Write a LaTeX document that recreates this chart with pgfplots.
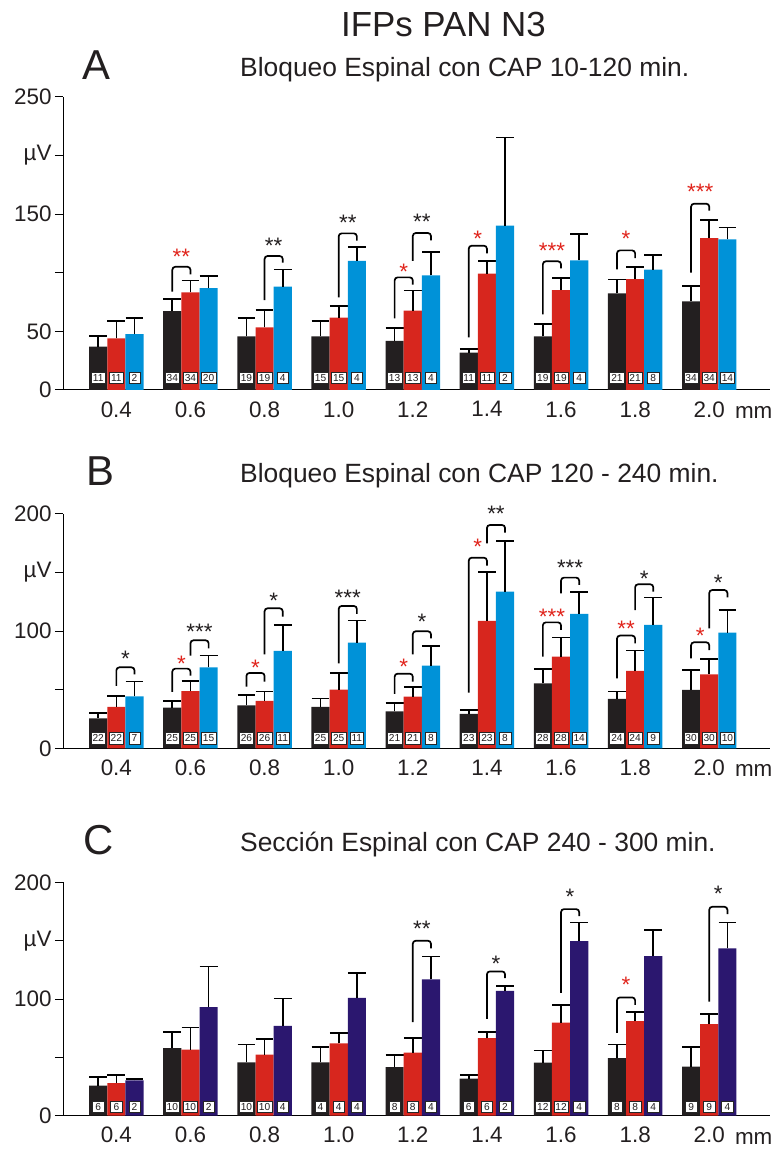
\documentclass[border=0pt]{standalone}
\usepackage{fontspec}
\setmainfont{Liberation Sans}
\usepackage{pgfplots}
\pgfplotsset{compat=1.18}
\usepackage{pgfplotstable}

\definecolor{cblk}{HTML}{231F20}
\definecolor{cred}{HTML}{D7261E}
\definecolor{cblu}{HTML}{0092D8}
\definecolor{cnav}{HTML}{2B176F}
\definecolor{cstar}{HTML}{E0241C}

% x b be r re u ue nb nr nu
\pgfplotstableread{
x b be r re u ue nb nr nu
0 36.9 9.4 44.0 14.8 47.7 13.4 11 11 2
1 67.3 10.0 83.2 10.0 86.9 10.0 34 34 20
2 45.7 15.4 53.4 14.8 88.0 14.8 19 19 4
3 45.7 13.1 61.6 9.7 110.0 11.9 15 15 4
4 41.8 10.8 67.6 17.1 97.7 19.9 13 13 4
5 31.8 2.9 99.1 11.1 140.0 75.3 11 11 2
6 45.7 10.3 85.2 10.0 110.5 22.7 19 19 4
7 82.4 11.9 94.6 10.5 102.6 12.2 21 21 8
8 75.6 13.3 129.5 15.4 128.4 10.2 34 34 14
}\dataA
\pgfplotstableread{
x b be r re u ue nb nr nu
0 25.6 4.8 35.3 9.1 44.4 12.5 22 22 7
1 34.7 5.4 48.9 8.6 69.1 10.0 25 25 15
2 36.7 8.5 40.4 8.0 83.1 22.2 26 26 11
3 35.3 7.1 50.1 13.9 90.2 18.8 25 25 11
4 31.6 6.8 44.1 8.5 70.6 16.7 21 21 8
5 29.3 3.4 108.7 41.5 133.7 43.5 23 23 8
6 55.5 12.2 78.2 16.5 114.7 19.0 28 28 14
7 42.1 6.5 66.0 17.4 105.3 23.3 24 24 9
8 49.8 16.8 63.2 12.8 98.7 19.3 30 30 10
}\dataB
\pgfplotstableread{
x b be r re u ue nb nr nu
0 25.7 7.7 28.0 7.1 30.3 1.4 6 6 2
1 58.0 13.7 56.6 19.1 93.1 34.9 10 10 2
2 45.7 15.4 52.3 13.4 77.1 23.5 10 10 4
3 45.7 12.9 62.0 9.1 100.9 21.4 4 4 4
4 41.7 10.6 54.0 12.9 116.9 19.7 8 8 4
5 31.7 2.9 66.6 5.1 107.1 4.3 6 6 2
6 45.4 10.6 79.7 15.2 149.7 16.0 12 12 4
7 49.4 11.7 81.1 7.5 136.9 22.2 8 8 4
8 42.0 16.6 78.6 8.3 143.4 22.3 9 9 4
}\dataC

\newcommand{\lf}{\fontsize{22.5}{22.5}\selectfont}
\newcommand{\subf}{\fontsize{26.5}{26.5}\selectfont}

\pgfplotsset{
  panel/.style={
    scale only axis, width=707bp,
    xmin=-0.72, xmax=8.82, ymin=0,
    axis x line=bottom, axis y line=left,
    axis line style={-, line width=1bp, black},
    xtick={0,...,8},
    xticklabels={0.4,0.6,0.8,1.0,1.2,1.4,1.6,1.8,2.0},
    x tick style={draw=none},
    y tick style={line width=1bp, black},
    major tick length=8bp, tick align=outside,
    clip=false,
    tick label style={font=\lf, text=cblk},
  },
  errb/.style={error bars/.cd, y dir=plus, y explicit,
    error bar style={line width=1.7bp, black},
    error mark options={rotate=90, line width=1.7bp, black, mark size=8.9bp}},
  bk/.style={ybar, bar width=0.245, bar shift=0pt, fill=cblk, draw=none, errb},
  rd/.style={ybar, bar width=0.245, bar shift=0pt, fill=cred, draw=none, errb},
  bu/.style={ybar, bar width=0.245, bar shift=0pt, fill=#1, draw=none, errb},
  nlab/.style={draw=none, nodes near coords, point meta=explicit symbolic,
    nodes near coords style={draw=black!85, line width=0.5bp, fill=white,
      inner xsep=1.6bp, inner ysep=0pt,
      minimum width=11.5bp, minimum height=11.5bp, anchor=center, text=cblk,
      font=\fontsize{10.2}{10.2}\selectfont}},
}

% x1, x2, ytop, yleft, yright, ystar, stars, color
\newcommand{\sg}[8]{%
  \draw[line width=1.7bp, rounded corners=3bp, black] (axis cs:#1,#4) -- (axis cs:#1,#3) -- (axis cs:#2,#3) -- (axis cs:#2,#5);
  \node[anchor=base, text=#8, font=\lf, inner sep=0pt, yshift=-12.9bp] at (axis cs:{0.5*(#1)+0.5*(#2)},#6) {#7};
}

\newcommand{\bars}[3]{% table, color3, nlab y
  \addplot[bk] table[x expr=\thisrow{x}-0.245, y=b, y error=be] {#1};
  \addplot[rd] table[x=x, y=r, y error=re] {#1};
  \addplot[bu=#2] table[x expr=\thisrow{x}+0.245, y=u, y error=ue] {#1};
  \addplot[nlab] table[x expr=\thisrow{x}-0.245, y expr=#3, meta=nb] {#1};
  \addplot[nlab] table[x=x, y expr=#3, meta=nr] {#1};
  \addplot[nlab] table[x expr=\thisrow{x}+0.245, y expr=#3, meta=nu] {#1};
}

\begin{document}
\begin{tikzpicture}
\path (0bp,0bp) rectangle (775bp,1149bp);

\node[anchor=base east, inner sep=0pt, font=\fontsize{35}{35}\selectfont, text=cblk] at (546bp,1112bp) {IFPs PAN N3};

% ---------- A
\node[anchor=base, font=\fontsize{42}{42}\selectfont, text=cblk] at (96bp,1069bp) {A};
\node[anchor=base west, font=\subf, text=cblk, inner sep=0pt] at (240bp,1072bp) {Bloqueo Espinal con CAP 10-120 min.};
\begin{axis}[panel, at={(63bp,759bp)}, anchor=south west, height=293.3bp, ymax=250,
  ytick={0,50,100,150,200,250}, yticklabels={0,50,{},150,µV,250}]
\bars{\dataA}{cblu}{10.3}
\sg{0.755}{1}{105}{83.8}{98.6}{118}{**}{cstar}
\sg{2}{2.245}{114.2}{76.7}{108.5}{127}{**}{cblk}
\sg{3}{3.245}{133.5}{79}{127.3}{147}{**}{cblk}
\sg{3.755}{4}{96}{61}{89.8}{105}{*}{cstar}
\sg{4}{4.245}{133.8}{110}{127.6}{147.7}{**}{cblk}
\sg{4.755}{5}{123}{44.9}{116.5}{133.5}{*}{cstar}
\sg{5.755}{6}{109.7}{64.5}{103.7}{123}{***}{cstar}
\sg{6.755}{7}{119}{102.8}{112.5}{133.5}{*}{cstar}
\sg{7.755}{8}{158.8}{100}{152.8}{173.3}{***}{cstar}
\node[anchor=base, font=\lf, text=cblk, yshift=-28.4bp] at (axis cs:8.6,0) {mm};
\end{axis}

% ---------- B
\node[anchor=base, font=\fontsize{42}{42}\selectfont, text=cblk] at (100bp,663bp) {B};
\node[anchor=base west, font=\subf, text=cblk, inner sep=0pt] at (240bp,666bp) {Bloqueo Espinal con CAP 120 - 240 min.};
\begin{axis}[panel, at={(63bp,400.7bp)}, anchor=south west, height=234.3bp, ymax=200,
  ytick={0,50,100,150,200}, yticklabels={0,{},100,µV,200}]
\bars{\dataB}{cblu}{8.5}
\sg{0}{0.245}{69.1}{53.2}{63.2}{81.1}{*}{cblk}
\sg{0.755}{1}{68}{48.1}{62}{76.8}{*}{cstar}
\sg{1}{1.245}{92.2}{79.1}{85.3}{103.8}{***}{cblk}
\sg{1.755}{2}{64.3}{52.6}{56.9}{73.4}{*}{cstar}
\sg{2}{2.245}{119.5}{80.2}{112.4}{130}{*}{cblk}
\sg{3}{3.245}{121.5}{72.5}{114.7}{133.1}{***}{cblk}
\sg{3.755}{4}{63.7}{46.4}{56.9}{74}{*}{cstar}
\sg{4}{4.245}{99.9}{80.2}{93.9}{112.4}{*}{cblk}
\sg{4.755}{5}{162.7}{47.5}{155.9}{176.4}{*}{cstar}
\sg{5}{5.245}{190.6}{175}{184.1}{204.8}{**}{cblk}
\sg{5.755}{6}{107.5}{78.2}{101}{116.6}{***}{cstar}
\sg{6}{6.245}{145.7}{132.3}{139.4}{158.7}{***}{cblk}
\sg{6.755}{7}{96.2}{59.7}{89.6}{106.7}{**}{cstar}
\sg{7}{7.245}{140}{118}{133.7}{149.4}{*}{cblk}
\sg{7.755}{8}{90.5}{76.8}{83.9}{100.1}{*}{cstar}
\sg{8}{8.245}{135.1}{102.4}{128.9}{145.7}{*}{cblk}
\node[anchor=base, font=\lf, text=cblk, yshift=-28.4bp] at (axis cs:8.6,0) {mm};
\end{axis}

% ---------- C
\node[anchor=base, font=\fontsize{42}{42}\selectfont, text=cblk] at (99bp,294bp) {C};
\node[anchor=base west, font=\subf, text=cblk, inner sep=0pt] at (240bp,297bp) {Sección Espinal con CAP 240 - 300 min.};
\begin{axis}[panel, at={(63bp,33.3bp)}, anchor=south west, height=233.3bp, ymax=200,
  ytick={0,50,100,150,200}, yticklabels={0,{},100,µV,200}]
\bars{\dataC}{cnav}{7.7}
\sg{4}{4.245}{150}{80.3}{143.4}{164.9}{**}{cblk}
\sg{5}{5.245}{123.7}{82.9}{118}{134.9}{*}{cblk}
\sg{6}{6.245}{177.1}{105.4}{171.1}{192}{*}{cblk}
\sg{6.755}{7}{101.4}{71.1}{94.9}{116.9}{*}{cstar}
\sg{8}{8.245}{179.1}{97.7}{172.9}{194.9}{*}{cblk}
\node[anchor=base, font=\lf, text=cblk, yshift=-28.4bp] at (axis cs:8.6,0) {mm};
\end{axis}
\end{tikzpicture}
\end{document}
